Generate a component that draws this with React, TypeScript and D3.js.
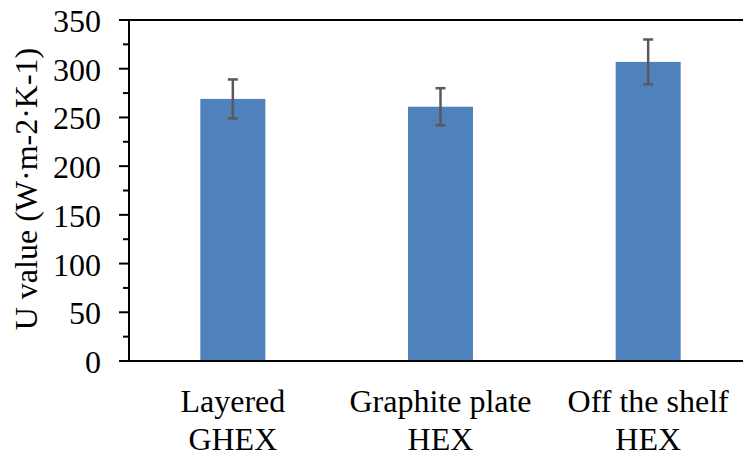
import React from "react";
import * as d3 from "d3";

const categories = ["Layered|GHEX", "Graphite plate|HEX", "Off the shelf|HEX"];
const uValues = [269, 261, 307];
const uErrors = [20, 19, 23];
const yTicks = [0, 50, 100, 150, 200, 250, 300, 350];
const yMinorTicks = [25, 75, 125, 175, 225, 275, 325];
const yTitle = "U value (W·m-2·K-1)";

const W = 743;
const H = 458;
const FONT = "Liberation Serif, Times New Roman, Tinos, serif";

export default function App() {
  const left = 129;
  const top = 20;
  const bottom = 361;
  const right = 752;

  const y = d3.scaleLinear().domain([0, 350]).range([bottom, top]);
  const x = d3
    .scaleBand<string>()
    .domain(categories)
    .range([left, right])
    .paddingInner(0.687)
    .paddingOuter(0.3435);

  const bw = x.bandwidth();
  const ts: React.CSSProperties = { fontFamily: FONT, fontSize: 32 };

  return (
    <svg
      width={W}
      height={H}
      style={{ position: "absolute", left: 0, top: 0, background: "#fff" }}
    >
      <rect x={0} y={0} width={W} height={H} fill="#fff" />
      {categories.map((c, i) => (
        <rect
          key={c}
          x={x(c)!}
          y={y(uValues[i])}
          width={bw}
          height={bottom - y(uValues[i])}
          fill="#4F81BD"
        />
      ))}
      {categories.map((c, i) => {
        const cx = x(c)! + bw / 2;
        const y1 = y(uValues[i] + uErrors[i]);
        const y0 = y(uValues[i] - uErrors[i]);
        return (
          <g key={"e" + c} stroke="#595959" strokeWidth={2.5}>
            <line x1={cx} x2={cx} y1={y1} y2={y0} />
            <line x1={cx - 5} x2={cx + 5} y1={y1} y2={y1} />
            <line x1={cx - 5} x2={cx + 5} y1={y0} y2={y0} />
          </g>
        );
      })}
      <line x1={119} x2={W} y1={y(350)} y2={y(350)} stroke="#000" strokeWidth={2} />
      <line x1={119} x2={W} y1={bottom} y2={bottom} stroke="#000" strokeWidth={2} />
      <line x1={left} x2={left} y1={top} y2={bottom} stroke="#000" strokeWidth={2} />
      {yTicks.map((t) => (
        <g key={"t" + t}>
          <line x1={119} x2={left} y1={y(t)} y2={y(t)} stroke="#000" strokeWidth={2} />
          <text x={101} y={y(t) + 12} textAnchor="end" style={ts} fill="#000">
            {t}
          </text>
        </g>
      ))}
      {yMinorTicks.map((t) => (
        <line key={"m" + t} x1={123} x2={left} y1={y(t)} y2={y(t)} stroke="#000" strokeWidth={2} />
      ))}
      {categories.map((c) => {
        const cx = x(c)! + bw / 2;
        const [l1, l2] = c.split("|");
        return (
          <text key={"l" + c} textAnchor="middle" style={ts} fill="#000">
            <tspan x={cx} y={412}>{l1}</tspan>
            <tspan x={cx} y={450}>{l2}</tspan>
          </text>
        );
      })}
      <text
        transform={`translate(36.5, ${(46 + 332) / 2}) rotate(-90)`}
        textAnchor="middle"
        style={ts}
        fill="#000"
      >
        {yTitle}
      </text>
    </svg>
  );
}
